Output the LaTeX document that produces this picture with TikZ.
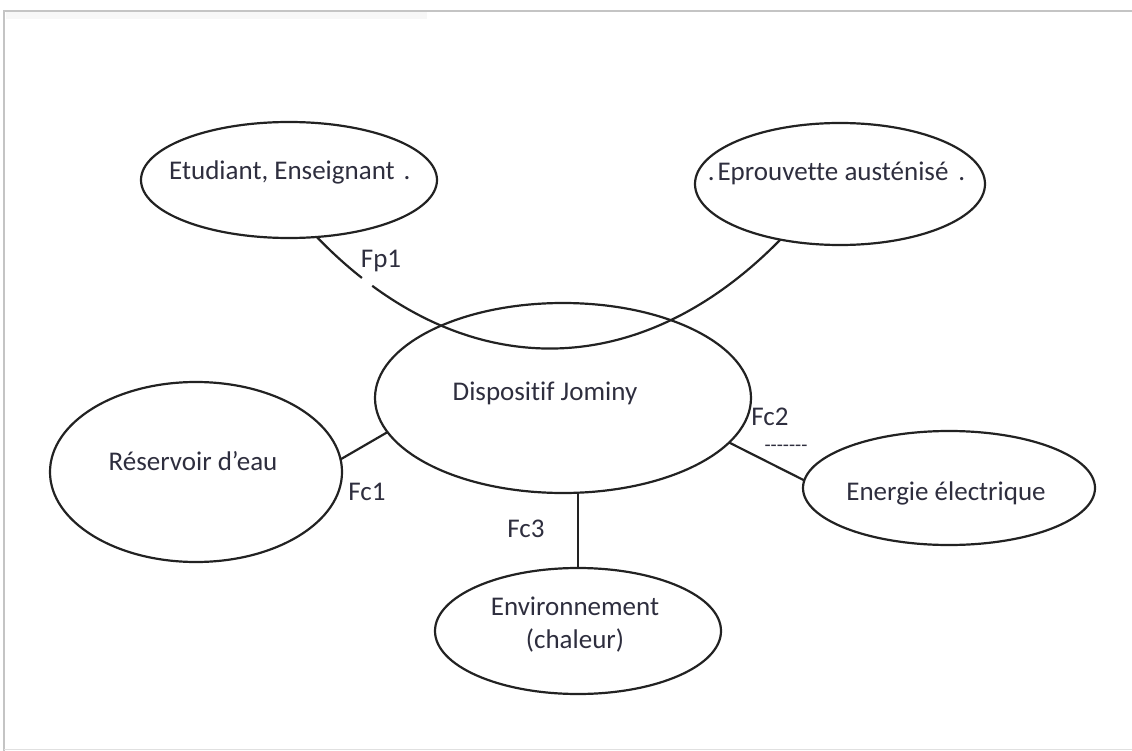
\documentclass[tikz,border=0pt]{standalone}
\usepackage{fontspec}
\setmainfont{Carlito}[Ligatures={NoCommon}]
\usetikzlibrary{shapes.geometric}
\definecolor{ink}{RGB}{34,34,34}
\definecolor{txt}{RGB}{46,46,62}
\definecolor{framegray}{RGB}{196,196,196}
\begin{document}
\begin{tikzpicture}[x=1pt,y=-1pt,
  bubble/.style={ellipse, draw=ink, line width=2.2pt, inner sep=0pt, outer sep=0pt},
  lbl/.style={text=txt, font=\fontsize{27}{32}\selectfont, inner sep=0pt, anchor=base},
  link/.style={draw=ink, line width=2.2pt}]
\useasboundingbox (0,0) rectangle (1132,751);

% page frame
\fill[black!3] (6,12) rectangle (427,19);
\draw[framegray, line width=2.5pt] (1140,11) -- (4,11) -- (4,760);
\draw[black!12, line width=1.5pt] (4,749.5) -- (1140,749.5);

% bubbles
\node[bubble, minimum width=296pt, minimum height=116pt] (etu) at (289,180) {};
\node[bubble, minimum width=290pt, minimum height=122pt] (epr) at (840,184) {};
\node[bubble, minimum width=376pt, minimum height=190pt] (jom) at (563,398) {};
\node[bubble, minimum width=292pt, minimum height=180pt] (res) at (196,472) {};
\node[bubble, minimum width=292pt, minimum height=114pt] (ene) at (949,488) {};
\node[bubble, minimum width=286pt, minimum height=126pt] (env) at (578,631) {};

% texts inside the bubbles
\node[lbl] (etu-t) at (282,180) {Etudiant, Enseignant\rlap{\hspace{9pt}.}};
\node[lbl] (epr-t) at (833,181) {\llap{.\hspace{3pt}}Eprouvette austénisé\rlap{\hspace{10pt}.}};
\node[lbl] (jom-t) at (545,400) {Dispositif Jominy};
\node[lbl] (res-t) at (193,470) {Réservoir d’eau};
\node[lbl] (ene-t) at (946,500) {Energie électrique};
\node[lbl] (env-t1) at (575,615) {Environnement};
\node[lbl] (env-t2) at (575,648) {(chaleur)};

% functions
\draw[link, dash pattern=on 61pt off 13pt on 3000pt]
  (etu.296) .. controls +(143,148) and +(-143,146) .. (epr.223);
\draw[link] (res.5) -- (jom.191);
\draw[link] (jom.345) -- (ene.177);
\draw[link] (jom.279) -- (jom.279 |- env.north);

% function labels
\node[lbl] (fp1) at (381,268) {Fp1};
\node[lbl] (fc1) at (367,500) {Fc1};
\node[lbl] (fc2) at (770,425) {Fc2};
\node[lbl, font=\fontsize{20}{22}\selectfont] (fc2-d) at (786,451) {-{}-{}-{}-{}-{}-{}-};
\node[lbl] (fc3) at (526,537) {Fc3};
\end{tikzpicture}
\end{document}
